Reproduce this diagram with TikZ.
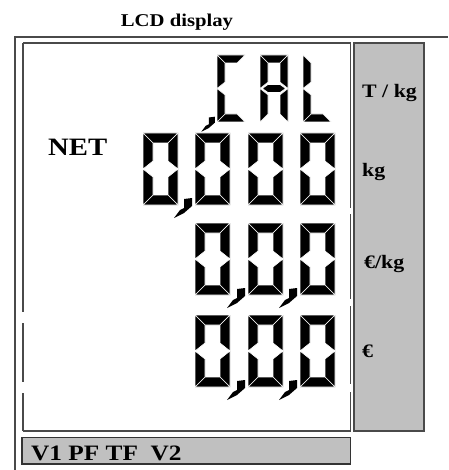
\documentclass[tikz,border=0pt]{standalone}
\usepackage{fontspec}
\setmainfont{Liberation Serif}
\usetikzlibrary{positioning}
\definecolor{lcdgray}{HTML}{C0C0C0}
\definecolor{lcdframe}{HTML}{4A4A4A}
\tikzstyle{frameline} = [draw=lcdframe, line width=1.6pt]
\tikzstyle{lcdseg} = [fill=black, draw=white, line width=0.6pt]
\tikzstyle{lcdtext} = [inner sep=0pt, font=\bfseries\fontsize{19}{19}\selectfont]
\tikzstyle{unitlabel} = [lcdtext, anchor=base west]
% wide bitmap-like lettering
\newcommand{\widetext}[1]{\scalebox{1.15}[1]{#1}}
% segment size: width, height, thickness
\newcommand{\dW}{35}
\newcommand{\dH}{72}
\newcommand{\dT}{10}
\newcommand{\lcdsega}{\path[lcdseg] (0,0) -- (\dW,0) -- (\dW-\dT,\dT) -- (\dT,\dT) -- cycle;}
\newcommand{\lcdsegb}{\path[lcdseg] (\dW,0) -- (\dW,\dH/2) -- (\dW-\dT,\dH/2-0.8*\dT) -- (\dW-\dT,\dT) -- cycle;}
\newcommand{\lcdsegc}{\path[lcdseg] (\dW,\dH/2) -- (\dW,\dH) -- (\dW-\dT,\dH-\dT) -- (\dW-\dT,\dH/2+0.8*\dT) -- cycle;}
\newcommand{\lcdsegd}{\path[lcdseg] (0,\dH) -- (\dW,\dH) -- (\dW-\dT,\dH-\dT) -- (\dT,\dH-\dT) -- cycle;}
\newcommand{\lcdsege}{\path[lcdseg] (0,\dH/2) -- (\dT,\dH/2+0.8*\dT) -- (\dT,\dH-\dT) -- (0,\dH) -- cycle;}
\newcommand{\lcdsegf}{\path[lcdseg] (0,0) -- (\dT,\dT) -- (\dT,\dH/2-0.8*\dT) -- (0,\dH/2) -- cycle;}
\newcommand{\lcdsegg}{\path[lcdseg] (0.3*\dT,\dH/2) -- (\dT,\dH/2-0.5*\dT) -- (\dW-\dT,\dH/2-0.5*\dT) -- (\dW-0.3*\dT,\dH/2) -- (\dW-\dT,\dH/2+0.5*\dT) -- (\dT,\dH/2+0.5*\dT) -- cycle;}
\newcommand{\lcddigit}[3]{% x, y, lit segments
  \begin{scope}[shift={(#1,#2)}]
    \foreach \s in {#3} {\csname lcdseg\s\endcsname}
  \end{scope}}
\newcommand{\lcdcomma}[3][1]{\fill[shift={(#2,#3)}, scale=#1] (-11,-6) -- (-3,-7) -- (-3,1) -- (-11,8) -- (-21,13) -- (-15,5) -- (-11,3) -- cycle;}

\begin{document}
\begin{tikzpicture}[x=1pt, y=-1pt]
\useasboundingbox (0,0) rectangle (448,470);

% frames
\draw[frameline] (15,470) -- (15,37) -- (448,37);
\draw[frameline] (23,43) -- (350.5,43);
\draw[frameline] (23,431) -- (350.5,431);
\draw[frameline] (23,43) -- (23,312) (23,323) -- (23,382) (23,393) -- (23,431);
\draw[frameline] (350.5,43) -- (350.5,208) (350.5,214) -- (350.5,299) (350.5,306) -- (350.5,384) (350.5,392) -- (350.5,431);
\draw[frameline, fill=lcdgray] (354,43) rectangle (424,431);
\draw[frameline, draw=black!80, fill=lcdgray] (22,437.5) rectangle (350.5,464);

% texts
\node[lcdtext, anchor=base, font=\bfseries\fontsize{18}{18}\selectfont] (title) at (177,27) {\widetext{LCD display}};
\node[lcdtext, anchor=base west, font=\bfseries\fontsize{25}{25}\selectfont] (net) at (48,156) {\widetext{NET}};
\node[unitlabel] (tkg) at (362,98) {\widetext{T / kg}};
\node[unitlabel] (kg) at (362,176) {\widetext{kg}};
\node[unitlabel] (eurkg) at (364,268) {\widetext{€/kg}};
\node[unitlabel] (eur) at (362,357) {\widetext{€}};
\node[lcdtext, anchor=base west, font=\bfseries\fontsize{22}{22}\selectfont] (flags) at (31,460) {\widetext{V1 PF TF\hspace{0.5em}V2}};

% row 1: ,CAL
\begin{scope}
\def\dW{28}\def\dH{67}\def\dT{8}
\lcdcomma[0.75]{217}{122}
\lcddigit{217}{55}{a,d,e,f}
\lcddigit{260}{55}{a,b,c,e,f,g}
\lcddigit{303}{55}{d,e,f}
\end{scope}

% row 2: 0,000
\lcddigit{143}{133}{a,b,c,d,e,f}
\lcdcomma{195}{205}
\foreach \x in {195,248,300}
  \lcddigit{\x}{133}{a,b,c,d,e,f};

% rows 3 and 4: 0,0,0
\foreach \y in {223,315} {
  \foreach \x in {195,248,300}
    \lcddigit{\x}{\y}{a,b,c,d,e,f};
  \lcdcomma{248}{\y+72}
  \lcdcomma{300}{\y+72}
}
\end{tikzpicture}
\end{document}
